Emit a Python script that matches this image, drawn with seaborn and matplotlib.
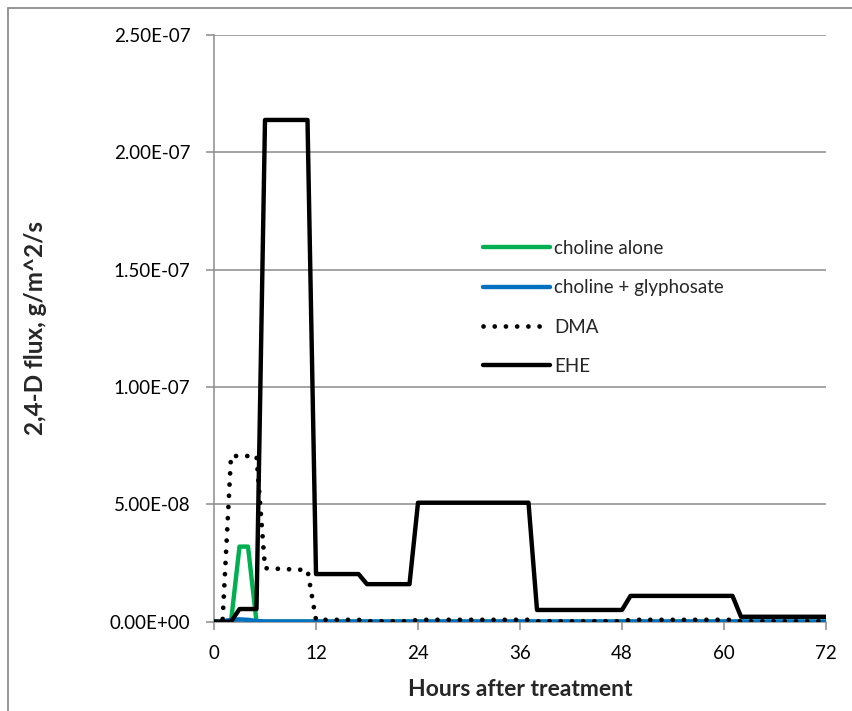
import matplotlib
matplotlib.use("Agg")
import matplotlib.pyplot as plt
from matplotlib.lines import Line2D
from matplotlib.ticker import FuncFormatter
import pandas as pd
import seaborn as sns

# Flux series: vertices (hour, flux in g/m^2/s)
choline_hours = [0, 2, 3, 4, 5, 72]
choline_flux = [0.0, 0.0, 3.2e-8, 3.2e-8, 0.0, 0.0]

chol_gly_hours = [0, 1, 2, 3, 4, 5, 6, 72]
chol_gly_flux = [0.0, 0.02e-8, 0.08e-8, 0.10e-8, 0.08e-8, 0.03e-8, 0.01e-8, 0.01e-8]

dma_hours = [0, 1, 2, 5, 6, 11, 12, 17, 18, 23, 24, 37, 38, 48, 49, 61, 62, 72]
dma_flux = [0.0, 0.0, 7.06e-8, 7.06e-8, 2.28e-8, 2.2e-8, 0.08e-8, 0.08e-8,
            0.02e-8, 0.02e-8, 0.08e-8, 0.08e-8, 0.02e-8, 0.02e-8, 0.08e-8,
            0.08e-8, 0.02e-8, 0.02e-8]

ehe_hours = [0, 2, 3, 5, 6, 11, 12, 17, 18, 23, 24, 37, 38, 48, 49, 61, 62, 72]
ehe_flux = [0.0, 0.0, 0.54e-8, 0.54e-8, 21.38e-8, 21.38e-8, 2.03e-8, 2.03e-8,
            1.6e-8, 1.6e-8, 5.07e-8, 5.07e-8, 0.5e-8, 0.5e-8, 1.1e-8, 1.1e-8,
            0.21e-8, 0.21e-8]

series_names = ["choline alone", "choline + glyphosate", "DMA", "EHE"]
x_ticks = [0, 12, 24, 36, 48, 60, 72]
y_ticks = [0.0, 5e-8, 1e-7, 1.5e-7, 2e-7, 2.5e-7]

sns.set_style("white")
plt.rcParams["font.family"] = ["Lato", "DejaVu Sans"]

W, H = 852, 711
fig = plt.figure(figsize=(W / 100, H / 100), dpi=100)
ax = fig.add_axes([214 / W, 1 - 621.7 / H, 612 / W, (621.7 - 35) / H])

grid_gray = "#8c8c8c"
lw_px = 4.4
lw = lw_px * 0.72

styles = [
    (choline_hours, choline_flux, "#00B050", "-", lw),
    (chol_gly_hours, chol_gly_flux, "#0070C0", "-", lw),
    (dma_hours, dma_flux, "black", (0, (0.01, 2.35)), lw * 1.08),
    (ehe_hours, ehe_flux, "black", "-", lw),
]
for name, (hrs, vals, color, ls, w) in zip(series_names, styles):
    df = pd.DataFrame({"hours": hrs, "flux": vals})
    sns.lineplot(data=df, x="hours", y="flux", ax=ax, color=color,
                 linestyle=ls, linewidth=w, estimator=None, sort=False,
                 label=name, solid_joinstyle="round", solid_capstyle="round",
                 dash_capstyle="round", zorder=3)

ax.set_xlim(0, 72)
ax.set_ylim(0, 2.5e-7)
ax.set_xticks(x_ticks)
ax.set_yticks(y_ticks)
ax.yaxis.set_major_formatter(FuncFormatter(lambda v, p: f"{v:.2E}"))

ax.grid(axis="y", color=grid_gray, linewidth=1.1)
ax.grid(axis="x", visible=False)
ax.set_axisbelow(True)
for side in ["top", "right"]:
    ax.spines[side].set_visible(False)
for side in ["left", "bottom"]:
    ax.spines[side].set_color(grid_gray)
    ax.spines[side].set_linewidth(1.1)

ax.tick_params(axis="both", which="major", direction="out", length=5.5,
               width=1.1, color=grid_gray, labelsize=13.5, labelcolor="black",
               left=True, bottom=True)
ax.tick_params(axis="y", pad=11.5)
ax.tick_params(axis="x", pad=11.5)

ax.set_xlabel("Hours after treatment", fontsize=16.5, fontweight="bold")
ax.set_ylabel("2,4-D flux, g/m^2/s", fontsize=17.5, fontweight="bold")
ax.xaxis.set_label_coords(0.5, (621.7 - 690) / (621.7 - 35))
ax.xaxis.label.set_va("center")
ax.yaxis.set_label_coords((36 - 214) / 612, 0.5)
ax.yaxis.label.set_va("center")

leg = ax.legend(loc="center left", bbox_to_anchor=(483 / W, 1 - 307.5 / H),
                bbox_transform=fig.transFigure, frameon=False, fontsize=13.5,
                handlelength=3.55, handletextpad=0.25, labelspacing=1.19,
                borderpad=0, borderaxespad=0)

# chart-area border (top and left edges)
bx, by = 7.5 / W, 1 - 7.7 / H
fig.add_artist(Line2D([bx, 1.0], [by, by], transform=fig.transFigure,
                      color=grid_gray, linewidth=1.3))
fig.add_artist(Line2D([bx, bx], [0.0, by], transform=fig.transFigure,
                      color=grid_gray, linewidth=1.3))

fig.savefig("out.png", dpi=100, facecolor="white")
